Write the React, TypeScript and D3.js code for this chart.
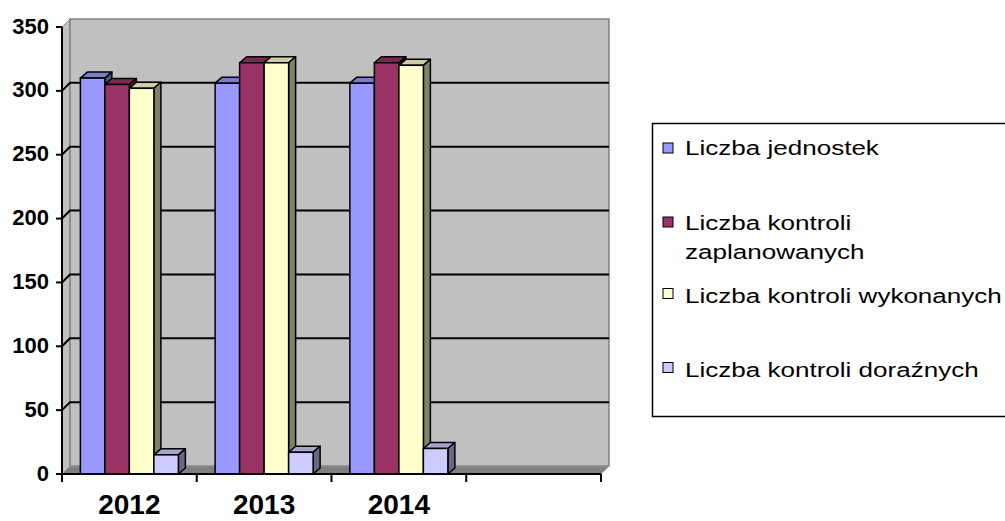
import { useEffect, useRef } from "react";
import * as d3 from "d3";

const categories = ["2012", "2013", "2014", ""];
const seriesNames = [
  "Liczba jednostek",
  "Liczba kontroli zaplanowanych",
  "Liczba kontroli wykonanych",
  "Liczba kontroli doraźnych",
];
const jednostek = [310, 306, 306];
const zaplanowanych = [305, 322, 322];
const wykonanych = [302, 322, 320];
const dorazne = [15, 17, 20];
const yTicks = [0, 50, 100, 150, 200, 250, 300, 350];

const colors = ["#9999FF", "#993366", "#FFFFCC", "#CCCCFF"];
const legendLines = [
  ["Liczba jednostek"],
  ["Liczba kontroli", "zaplanowanych"],
  ["Liczba kontroli wykonanych"],
  ["Liczba kontroli doraźnych"],
];

const FONT = "'Liberation Sans', Arial, sans-serif";

export default function App() {
  const ref = useRef<HTMLDivElement>(null);

  useEffect(() => {
    const el = ref.current;
    if (!el) return;
    el.innerHTML = "";

    const values = [jednostek, zaplanowanych, wykonanych, dorazne];
    const width = 1005;
    const height = 521;
    const left = 62;
    const right = 601;
    // glebokosc sciany i slupkow
    const DX = 8;
    const DY = -8;
    const BDX = 7;
    const BDY = -6;

    const y = d3.scaleLinear().domain([0, 350]).range([474, 27]);
    const x0 = d3.scaleBand<string>().domain(categories.map((c, i) => c + "|" + i)).range([left, right]);
    const x1 = d3
      .scaleBand<number>()
      .domain(d3.range(seriesNames.length))
      .range([0, x0.bandwidth()])
      .paddingInner(0)
      .paddingOuter(0.75);

    const svg = d3
      .select(el)
      .append("svg")
      .attr("width", width)
      .attr("height", height)
      .style("position", "absolute")
      .style("left", "0px")
      .style("top", "0px")
      .style("background", "#fff");

    const y0 = y(0);
    const yTop = y(350);

    // sciana boczna
    svg
      .append("path")
      .attr("d", `M${left},${y0} L${left},${yTop} L${left + DX},${yTop + DY} L${left + DX},${y0 + DY} Z`)
      .attr("fill", "#c0c0c0")
      .attr("stroke", "#8c8c8c")
      .attr("stroke-width", 1);

    // sciana tylna
    svg
      .append("rect")
      .attr("x", left + DX)
      .attr("y", yTop + DY)
      .attr("width", right - left)
      .attr("height", y0 - yTop)
      .attr("fill", "#c0c0c0")
      .attr("stroke", "#808080")
      .attr("stroke-width", 1.5);

    // podloga
    svg
      .append("path")
      .attr("d", `M${left},${y0} L${left + DX},${y0 + DY} L${right + DX},${y0 + DY} L${right},${y0} Z`)
      .attr("fill", "#808080")
      .attr("stroke", "#999")
      .attr("stroke-width", 1);

    // linie siatki
    yTicks
      .filter((t) => t > 0 && t < 350)
      .forEach((t) => {
        const yy = y(t);
        svg
          .append("path")
          .attr("d", `M${left},${yy} L${left + DX},${yy + DY} L${right + DX},${yy + DY}`)
          .attr("fill", "none")
          .attr("stroke", "#000")
          .attr("stroke-width", 2);
      });

    // slupki
    categories.forEach((cat, ci) => {
      if (ci >= jednostek.length) return;
      const bx = x0(cat + "|" + ci)!;
      values.forEach((vals, si) => {
        const v = vals[ci];
        const xl = bx + x1(si)!;
        const w = x1.bandwidth();
        const yt = y(v);
        const base = d3.color(colors[si])!;
        const g = svg.append("g");
        g.append("path")
          .attr("d", `M${xl},${yt} L${xl + BDX},${yt + BDY} L${xl + w + BDX},${yt + BDY} L${xl + w},${yt} Z`)
          .attr("fill", base.darker(0.6).toString())
          .attr("stroke", "#000")
          .attr("stroke-width", 1.5)
          .attr("stroke-linejoin", "round");
        g.append("path")
          .attr("d", `M${xl + w},${yt} L${xl + w + BDX},${yt + BDY} L${xl + w + BDX},${y0 + BDY} L${xl + w},${y0} Z`)
          .attr("fill", base.darker(1.9).toString())
          .attr("stroke", "#000")
          .attr("stroke-width", 1.5)
          .attr("stroke-linejoin", "round");
        g.append("rect")
          .attr("x", xl)
          .attr("y", yt)
          .attr("width", w)
          .attr("height", y0 - yt)
          .attr("fill", colors[si])
          .attr("stroke", "#000")
          .attr("stroke-width", 1.5);
      });
    });

    // os Y
    svg
      .append("line")
      .attr("x1", left)
      .attr("x2", left)
      .attr("y1", yTop)
      .attr("y2", y0)
      .attr("stroke", "#000")
      .attr("stroke-width", 2);
    yTicks.forEach((t) => {
      svg
        .append("line")
        .attr("x1", left - 6)
        .attr("x2", left)
        .attr("y1", y(t))
        .attr("y2", y(t))
        .attr("stroke", "#000")
        .attr("stroke-width", 2);
      svg
        .append("text")
        .attr("x", 49)
        .attr("y", y(t))
        .attr("dy", "0.3em")
        .attr("text-anchor", "end")
        .attr("font-family", FONT)
        .attr("font-weight", "bold")
        .attr("font-size", 22)
        .text(t);
    });

    // os X
    svg
      .append("line")
      .attr("x1", left)
      .attr("x2", right)
      .attr("y1", y0)
      .attr("y2", y0)
      .attr("stroke", "#000")
      .attr("stroke-width", 2);
    const tickXs = categories.map((c, i) => x0(c + "|" + i)!).concat([right]);
    tickXs.forEach((tx) => {
      svg
        .append("line")
        .attr("x1", tx)
        .attr("x2", tx)
        .attr("y1", y0)
        .attr("y2", y0 + 8)
        .attr("stroke", "#000")
        .attr("stroke-width", 2);
    });
    categories.forEach((c, i) => {
      svg
        .append("text")
        .attr("x", x0(c + "|" + i)! + x0.bandwidth() / 2)
        .attr("y", 514)
        .attr("text-anchor", "middle")
        .attr("font-family", FONT)
        .attr("font-weight", "bold")
        .attr("font-size", 28)
        .text(c);
    });

    // legenda
    svg
      .append("rect")
      .attr("x", 652.5)
      .attr("y", 123.5)
      .attr("width", 360)
      .attr("height", 293)
      .attr("fill", "#fff")
      .attr("stroke", "#000")
      .attr("stroke-width", 1.5);
    const markerY = [143, 217, 288.5, 362.5];
    const textY = [155, 230, 303, 377];
    legendLines.forEach((lines, i) => {
      svg
        .append("rect")
        .attr("x", 663)
        .attr("y", markerY[i])
        .attr("width", 10)
        .attr("height", 10)
        .attr("fill", colors[i])
        .attr("stroke", "#000")
        .attr("stroke-width", 1);
      const t = svg
        .append("text")
        .attr("transform", `translate(685,${textY[i]}) scale(1.24,1)`)
        .attr("font-family", FONT)
        .attr("font-size", 21)
        .attr("fill", "#000");
      lines.forEach((ln, li) => {
        t.append("tspan")
          .attr("x", 0)
          .attr("y", li * 29.5)
          .text(ln);
      });
    });
  }, []);

  return <div ref={ref} style={{ width: 1005, height: 521 }}></div>;
}
